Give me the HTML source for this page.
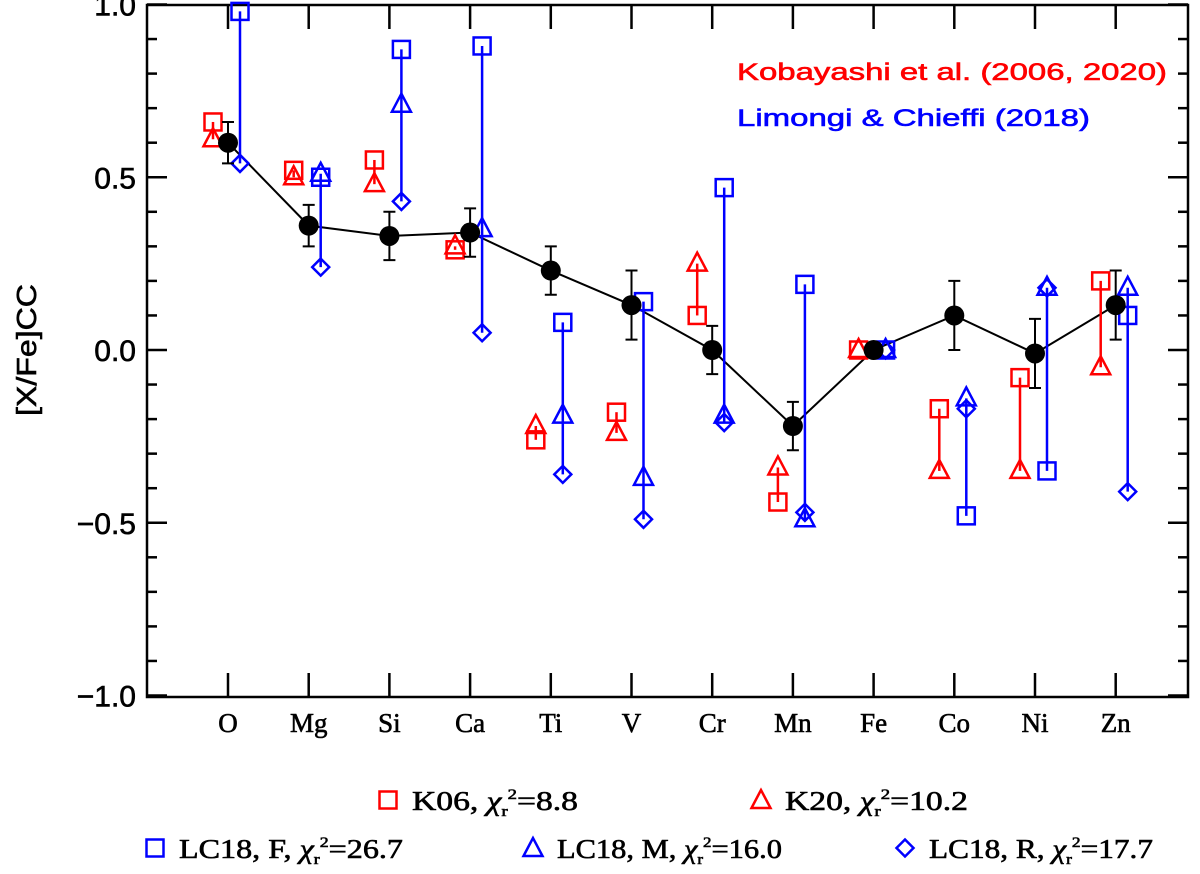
<!DOCTYPE html>
<html><head><meta charset="utf-8"><style>
body{margin:0;background:#fff}
svg text{font-family:"Liberation Serif","DejaVu Serif",serif;stroke:currentColor;stroke-width:0.6}
svg text.sans{font-family:"Liberation Sans","DejaVu Sans",sans-serif}
</style></head><body>
<svg id="chart" width="1200" height="869" viewBox="0 0 1200 869" xmlns="http://www.w3.org/2000/svg">
<g id="axes"></g>
<g id="marks"></g>
<text class="sans" x="737" y="80" fill="#f00" style="color:#f00" font-size="24" textLength="430" lengthAdjust="spacingAndGlyphs">Kobayashi et al. (2006, 2020)</text>
<text class="sans" x="737" y="126" fill="#00f" style="color:#00f" font-size="24" textLength="353" lengthAdjust="spacingAndGlyphs">Limongi &amp; Chieffi (2018)</text>
<text class="sans" transform="translate(36,350) rotate(-90)" text-anchor="middle" font-size="28" textLength="132" lengthAdjust="spacingAndGlyphs">[X/Fe]CC</text>
<g id="legend"></g>
</svg>
<script>
const elements=["O","Mg","Si","Ca","Ti","V","Cr","Mn","Fe","Co","Ni","Zn"];
const obs=[0.60,0.36,0.33,0.34,0.23,0.13,0.00,-0.22,0.00,0.10,-0.01,0.13];
const obsErr=[0.06,0.06,0.07,0.07,0.07,0.10,0.07,0.07,0,0.10,0.10,0.10];
const k06=[0.66,0.52,0.55,0.29,-0.26,-0.18,0.10,-0.44,0.00,-0.17,-0.08,0.20];
const k20=[0.61,0.50,0.48,0.30,-0.22,-0.24,0.25,-0.34,0.00,-0.35,-0.35,-0.05];
const lcF=[0.98,0.50,0.87,0.88,0.08,0.14,0.47,0.19,0.00,-0.48,-0.35,0.10];
const lcM=[null,0.51,0.71,0.35,-0.19,-0.37,-0.19,-0.49,0.00,-0.14,0.18,0.18];
const lcR=[0.54,0.24,0.43,0.05,-0.36,-0.49,-0.21,-0.47,0.00,-0.17,0.18,-0.41];
const yTicks=[1.0,0.5,0.0,-0.5,-1.0];
const yTickLabels=["1.0","0.5","0.0","\u22120.5","\u22121.0"];

const NS="http://www.w3.org/2000/svg";
const L=147,R=1188,T=5,B=697;
const xs=i=>228+80.7*i;
const ys=v=>350-v*345.5;
function mk(tag,attrs,parent){const e=document.createElementNS(NS,tag);for(const k in attrs)e.setAttribute(k,attrs[k]);parent.appendChild(e);return e;}
const axes=document.getElementById('axes'),marks=document.getElementById('marks'),leg=document.getElementById('legend');
let box=mk('rect',{x:L,y:T,width:R-L,height:B-T,fill:'none',stroke:'#000','stroke-width':2.5},axes);


for(let k=-10;k<=10;k++){const v=k/10,y=ys(v);const len=(k%5===0)?20:10;
 let t=mk('line',{x1:L,x2:L+len,y1:y,y2:y,stroke:'#000','stroke-width':2.5},axes);
 
 
 let t2=mk('line',{x1:R,x2:R-len,y1:y,y2:y,stroke:'#000','stroke-width':2.5},axes);
 
 }
yTicks.forEach((v,i)=>{let t=mk('text',{class:'sans',x:136,y:ys(v)+11,'text-anchor':'end','font-size':30},axes);t.textContent=yTickLabels[i];
 
 });
elements.forEach((e,i)=>{const x=xs(i);
 let a=mk('line',{x1:x,x2:x,y1:T,y2:T+24,stroke:'#000','stroke-width':2.5},axes);
 
 
 let b=mk('line',{x1:x,x2:x,y1:B,y2:B-24,stroke:'#000','stroke-width':2.5},axes);
 
 
 let t=mk('text',{x:x,y:732,'text-anchor':'middle','font-size':27},axes);t.textContent=e;
 
 });
function square(x,y,c,p){let e=mk('rect',{x:x-8.5,y:y-8.5,width:17,height:17,fill:'none',stroke:c,'stroke-width':2.5},p);return e;}
function tri(x,y,c,p){let e=mk('polygon',{points:`${x},${y-11} ${x-9.5},${y+7} ${x+9.5},${y+7}`,fill:'none',stroke:c,'stroke-width':2.5},p);return e;}
function diam(x,y,c,p){let e=mk('polygon',{points:`${x},${y-8.5} ${x+8.5},${y} ${x},${y+8.5} ${x-8.5},${y}`,fill:'none',stroke:c,'stroke-width':2.5},p);return e;}
let pts=obs.map((v,i)=>xs(i)+','+ys(v)).join(' ');
let pl=mk('polyline',{points:pts,fill:'none',stroke:'#000','stroke-width':2},marks);


elements.forEach((e,i)=>{
 const xr=xs(i)-15,xb=xs(i)+12;
 let rl=mk('line',{x1:xr,x2:xr,y1:ys(k06[i]),y2:ys(k20[i]),stroke:'#f00','stroke-width':2.5},marks);
 
 
 let s=square(xr,ys(k06[i]),'#f00',marks);
 
 
 let t=tri(xr,ys(k20[i]),'#f00',marks);
 
 
 const bv=[lcF[i],lcM[i],lcR[i]].filter(v=>v!==null);
 let bl=mk('line',{x1:xb,x2:xb,y1:ys(Math.max(...bv)),y2:ys(Math.min(...bv)),stroke:'#00f','stroke-width':2.5},marks);
 
 
 let bs=square(xb,ys(lcF[i]),'#00f',marks);
 
 
 if(lcM[i]!==null){let bt=tri(xb,ys(lcM[i]),'#00f',marks);
 
 }
 let bd=diam(xb,ys(lcR[i]),'#00f',marks);
 
 
 const x=xs(i);
 if(obsErr[i]>0){const y1=ys(obs[i]+obsErr[i]),y2=ys(obs[i]-obsErr[i]);
  let eb=mk('path',{d:`M${x},${y1}V${y2}M${x-6},${y1}H${x+6}M${x-6},${y2}H${x+6}`,stroke:'#000','stroke-width':2,fill:'none'},marks);
  
  }
 let c=mk('circle',{cx:x,cy:ys(obs[i]),r:10,fill:'#000'},marks);
 
 
});
const legItems=[[388,800,'sq','#f00','K06,  ','8.8',166],[761,800,'tr','#f00','K20,  ','10.2',183],[155,848,'sq','#00f','LC18,  F,  ','26.7',224],[533,848,'tr','#00f','LC18,  M,  ','16.0',225],[905,848,'di','#00f','LC18,  R,  ','17.7',224]];
legItems.forEach(it=>{const [x,y,sh,c,lab,val,w]=it;
 let m=sh==='sq'?square(x,y,c,leg):sh==='tr'?tri(x,y+1,c,leg):diam(x,y,c,leg);
 
 
 let t=mk('text',{x:x+24,y:y+10,'font-size':27,'xml:space':'preserve',textLength:w,lengthAdjust:'spacingAndGlyphs'},leg);
 t.innerHTML=lab+'<tspan font-style="italic">\u03c7</tspan><tspan font-size="15" dy="6">r</tspan><tspan font-size="15" dy="-17">2</tspan><tspan dy="11">='+val+'</tspan>';
 
 });
</script>
</body></html>
